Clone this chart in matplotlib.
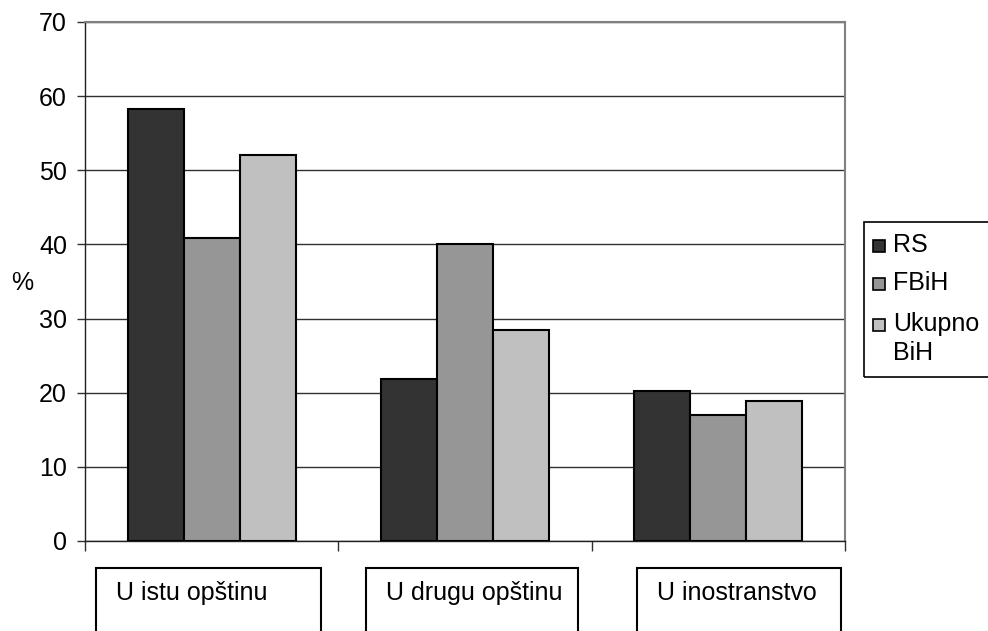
import matplotlib
matplotlib.use("Agg")
import matplotlib.pyplot as plt
from matplotlib.patches import Rectangle
import numpy as np

categories = ["U istu opštinu", "U drugu opštinu", "U inostranstvo"]
series_names = ["RS", "FBiH", "Ukupno\nBiH"]
rs = [58.3, 21.9, 20.2]
fbih = [40.9, 40.1, 17.0]
ukupno = [52.1, 28.4, 18.9]
y_ticks = [0, 10, 20, 30, 40, 50, 60, 70]

colors = ["#333333", "#969696", "#C0C0C0"]

plt.rcParams['font.family'] = ['Liberation Sans', 'DejaVu Sans']
FS = 18

W, H = 988, 631
fig = plt.figure(figsize=(W / 100, H / 100), dpi=100)
ax = fig.add_axes([85 / W, (H - 541) / H, (845 - 85) / W, (541 - 22) / H])

x = np.arange(len(categories))
bw = 0.221
for i, vals in enumerate([rs, fbih, ukupno]):
    ax.bar(x + (i - 1) * bw, vals, width=bw, color=colors[i],
           edgecolor="black", linewidth=1.5, zorder=3)

ax.set_xlim(-0.5, len(categories) - 0.5)
ax.set_ylim(0, 70)
ax.set_yticks(y_ticks)
ax.set_yticklabels([str(v) for v in y_ticks], fontsize=FS)
ax.yaxis.grid(True, color="#303030", linewidth=1.0, zorder=0)
ax.set_axisbelow(True)

ax.set_xticks(np.arange(-0.5, len(categories), 1.0))
ax.set_xticklabels([])
ax.tick_params(axis="x", direction="out", length=7, width=1, color="#303030")
ax.tick_params(axis="y", direction="out", length=6, width=1, color="#303030", pad=7)

for s in ["top", "right"]:
    ax.spines[s].set_color("#808080")
    ax.spines[s].set_linewidth(1.5)
for s in ["left", "bottom"]:
    ax.spines[s].set_color("#202020")
    ax.spines[s].set_linewidth(1.0)

fig.text(22 / W, 1 - 283 / H, "%", fontsize=FS, ha="center", va="center")

# category label boxes
boxes = [(96, 321), (366, 578), (637, 841)]
for (l, r), cat in zip(boxes, categories):
    rect = Rectangle((l / W, -0.1), (r - l) / W, (H - 568) / H + 0.1,
                     transform=fig.transFigure, fill=False,
                     edgecolor="black", linewidth=1.5)
    fig.patches.append(rect)
    fig.text((l + 20) / W, 1 - 593 / H, cat, fontsize=FS, ha="left", va="center")

# legend (drawn manually to match layout)
frame = Rectangle((864 / W, 1 - 377 / H), (W + 5 - 864) / W, (377 - 222) / H,
                  transform=fig.transFigure, fill=False,
                  edgecolor="black", linewidth=1.2)
fig.patches.append(frame)
baselines = [252, 290, 331]
line_gap = 29
for name, c, base in zip(series_names, colors, baselines):
    sq = Rectangle((873 / W, 1 - (base - 0.5) / H), 12 / W, 12 / H,
                   transform=fig.transFigure, facecolor=c,
                   edgecolor="black", linewidth=1.2)
    fig.patches.append(sq)
    for k, line in enumerate(name.split("\n")):
        fig.text(893 / W, 1 - (base + k * line_gap) / H, line, fontsize=FS,
                 ha="left", va="baseline")

fig.savefig("out.png", dpi=100)
